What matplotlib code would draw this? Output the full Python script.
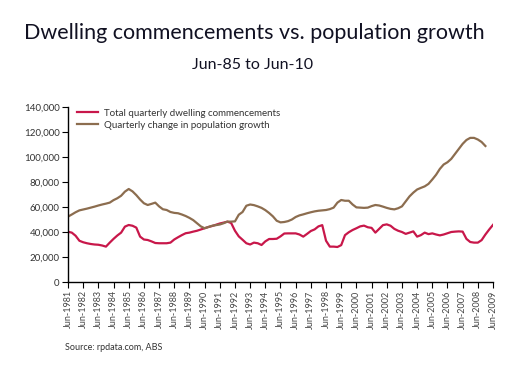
import numpy as np
import matplotlib
matplotlib.use('Agg')
import matplotlib.pyplot as plt

# quarterly, starting Jun-1981
dwelling = [40200, 39500, 37000, 33000, 31800, 31000, 30400, 30000, 29800, 29200,
            28300, 31500, 34500, 37200, 39500, 44300, 45600, 45000, 43500, 36300,
            34000, 33600, 32500, 31200, 31000, 31000, 31000, 31500, 34000, 35800,
            37500, 39000, 39500, 40300, 41000, 42000, 43000, 44000, 44800, 45800,
            46800, 47500, 48300, 47200, 41000, 36500, 33800, 31000, 30000, 31500,
            31000, 29600, 32500, 34400, 34400, 34600, 36500, 38800, 38900, 38900,
            38900, 38000, 36300, 38500, 40800, 42100, 44500, 45500, 33000, 28300,
            28300, 28000, 29500, 37500, 39800, 41600, 43000, 44500, 45100, 43800,
            43300, 39500, 42500, 45500, 46100, 45000, 42500, 41000, 40000, 38500,
            39500, 40500, 36300, 37500, 39500, 38300, 38900, 38000, 37300, 38000,
            39000, 40000, 40300, 40500, 40300, 34500, 32000, 31500, 31500, 33500,
            38000, 42000, 45700]

population = [52300, 54000, 55800, 57300, 58000, 58700, 59500, 60300, 61200, 62000,
              62700, 63500, 65500, 67000, 69000, 72300, 74400, 72500, 69500, 66000,
              63000, 61600, 62500, 63500, 60500, 58200, 57600, 56000, 55300, 55000,
              54000, 52800, 51300, 49500, 47000, 44500, 43000, 44000, 45000, 45500,
              46000, 47000, 48300, 48300, 48500, 53800, 56000, 61000, 62000, 61500,
              60500, 59300, 57500, 55200, 52500, 49000, 47700, 48000, 48700, 50000,
              52000, 53300, 54100, 55000, 55800, 56500, 57000, 57300, 57600, 58300,
              59500, 63500, 65600, 65000, 65000, 62000, 59700, 59500, 59300, 59500,
              60700, 61600, 61200, 60300, 59300, 58500, 58100, 59000, 60500, 64500,
              68500, 71500, 74000, 75300, 76500, 78500, 82000, 85800, 90500, 94000,
              95800, 98500, 102500, 106500, 110500, 113600, 115300, 115300, 114000, 112000,
              108800]

years = list(range(1981, 2010))
year_labels = ['Jun-%d' % y for y in years]
yticks = list(range(0, 140001, 20000))

plt.rcParams['font.family'] = ['Lato', 'DejaVu Sans']

fig = plt.figure(figsize=(5.28, 3.73), dpi=100)
ax = fig.add_axes([68/528, 1-282/373, 425/528, 175/373])

xd = 1981 + np.arange(len(dwelling))/4.0
xp = 1981 + np.arange(len(population))/4.0
ax.plot(xd, dwelling, color='#c8174a', lw=1.6, label='Total quarterly dwelling commencements')
ax.plot(xp, population, color='#8c6d4f', lw=1.6, label='Quarterly change in population growth')

ax.set_xlim(1981, 2009)
ax.set_ylim(0, 140000)
ax.set_xticks(years)
ax.set_xticklabels(year_labels, rotation=90, fontsize=6.5, color='#444444')
ax.set_yticks(yticks)
ax.set_yticklabels(['{:,}'.format(v) for v in yticks], fontsize=7, color='#333333')
ax.tick_params(direction='out', length=4, width=0.8, pad=2)
for s in ['top', 'right']:
  ax.spines[s].set_visible(False)
ax.spines['left'].set_linewidth(1)
ax.spines['bottom'].set_linewidth(1)

leg = ax.legend(loc='upper left', bbox_to_anchor=(0.0, 1.04), frameon=False,
                fontsize=7, handlelength=2.2, handletextpad=0.6, labelspacing=0.3)
for t in leg.get_texts():
  t.set_color('#333333')

fig.text(254/528, 1-33/373, 'Dwelling commencements vs. population growth',
         ha='center', va='center', fontsize=15.5, color='#111122')
fig.text(253/528, 1-65/373, 'Jun-85 to Jun-10',
         ha='center', va='center', fontsize=11.5, color='#111122')
fig.text(65/528, 1-348/373, 'Source: rpdata.com, ABS',
         ha='left', va='center', fontsize=6.5, color='#333333')

fig.savefig('out.png', dpi=100)
